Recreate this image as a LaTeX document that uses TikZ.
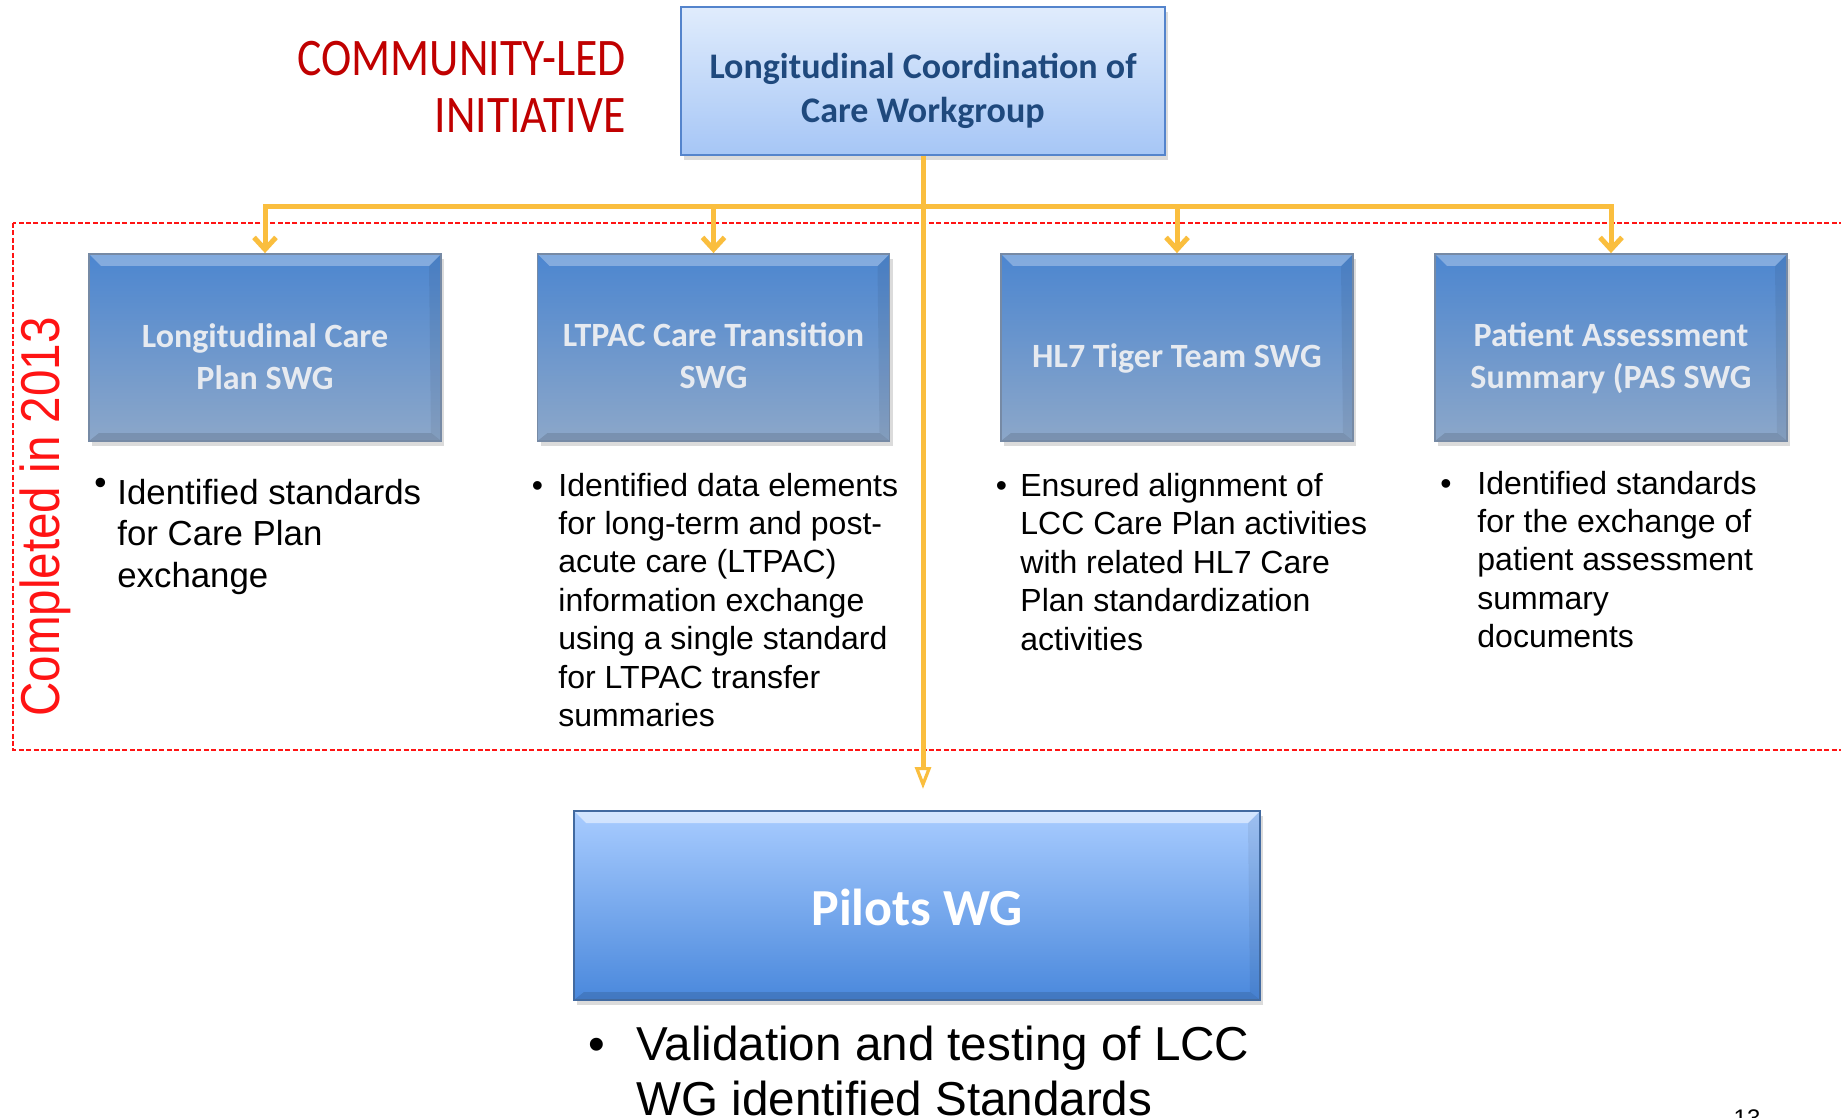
\documentclass[tikz,border=0pt]{standalone}
\usepackage{fontspec}
\setmainfont{Liberation Sans}
\newfontfamily\calfont{Carlito}
\usetikzlibrary{arrows.meta,shadows}

\definecolor{linkorange}{RGB}{250,190,62}
\definecolor{doneRed}{RGB}{255,20,20}
\definecolor{titleRed}{RGB}{192,0,0}
\definecolor{navyText}{RGB}{31,73,125}
\definecolor{lccTop}{RGB}{224,236,252}
\definecolor{lccBottom}{RGB}{166,198,246}
\definecolor{lccEdge}{RGB}{84,132,204}
\definecolor{swgTop}{RGB}{76,134,208}
\definecolor{swgMid}{RGB}{104,148,200}
\definecolor{swgBottom}{RGB}{140,167,201}
\definecolor{swgEdge}{RGB}{118,138,165}
\definecolor{swgText}{RGB}{230,234,240}
\definecolor{pilotTop}{RGB}{168,204,255}
\definecolor{pilotBottom}{RGB}{74,136,220}
\definecolor{pilotEdge}{RGB}{66,106,160}

% multi-line centred text, baseline on the first line
\newcommand\boxlines[2]{\parbox[t]{#1}{\centering #2}}
% bullet paragraph: width, bullet indent, bullet, lines
\newcommand\bulletpara[4]{\parbox[t]{#1}{\raggedright\leavevmode\llap{\makebox[#2][l]{#3}}#4}}

\tikzset{
  bevel/.style={path picture={
    \fill[white,opacity=#1] (path picture bounding box.north west) -- (path picture bounding box.north east)
      -- ([shift={(-6pt,-6pt)}]path picture bounding box.north east) -- ([shift={(6pt,-6pt)}]path picture bounding box.north west) -- cycle;
    \fill[black,opacity=0.12] (path picture bounding box.south west) -- (path picture bounding box.south east)
      -- ([shift={(-5pt,4pt)}]path picture bounding box.south east) -- ([shift={(5pt,4pt)}]path picture bounding box.south west) -- cycle;
    \fill[black,opacity=0.06] (path picture bounding box.north east) -- (path picture bounding box.south east)
      -- ([shift={(-5pt,4pt)}]path picture bounding box.south east) -- ([shift={(-6pt,-6pt)}]path picture bounding box.north east) -- cycle;
  }},
  boxshadow/.style={drop shadow={opacity=0.28,shadow xshift=1.5pt,shadow yshift=-2.5pt}},
  lccbox/.style={draw=lccEdge, line width=1.2pt, top color=lccTop, bottom color=lccBottom,
    minimum width=242pt, minimum height=74pt, inner sep=0pt, boxshadow},
  swgbox/.style={draw=swgEdge, line width=0.9pt, top color=swgTop, middle color=swgMid, bottom color=swgBottom,
    minimum width=176pt, minimum height=93.5pt, inner sep=0pt, boxshadow, bevel=0.3},
  pilotbox/.style={draw=pilotEdge, line width=0.9pt, top color=pilotTop, bottom color=pilotBottom,
    minimum width=343pt, minimum height=94.5pt, inner sep=0pt, boxshadow, bevel=0.5},
  lcclabel/.style={inner sep=0pt, anchor=base, text=navyText,
    font=\calfont\bfseries\fontsize{18pt}{22pt}\selectfont},
  swglabel/.style={inner sep=0pt, anchor=base, text=swgText,
    font=\calfont\bfseries\fontsize{17pt}{21pt}\selectfont},
  pilotlabel/.style={inner sep=0pt, anchor=base, text=white,
    font=\calfont\bfseries\fontsize{26pt}{30pt}\selectfont},
  note/.style={inner sep=0pt, anchor=base west, text=black},
  conn/.style={draw=linkorange, line width=2.5pt, -{Straight Barb[length=6pt,width=11pt]}},
  connmain/.style={draw=linkorange, line width=2.5pt, -{Triangle[open,length=11pt,width=8pt,line width=1.6pt]}},
  doneframe/.style={draw=doneRed, line width=1.3pt, dash pattern=on 2.5pt off 1.2pt},
}

\begin{document}
\begin{tikzpicture}[x=0.5pt,y=-0.5pt]
\useasboundingbox (0,0) rectangle (1841,1118);
\fill[white] (0,0) rectangle (1841,1118);

% frame around the finished sub-workgroups
\draw[doneframe] (13,223) rectangle (1900,750);
\node[rotate=90, anchor=base, inner sep=0pt, text=doneRed, font=\fontsize{23.8pt}{28pt}\selectfont] (done) at (59,517)
  {\scalebox{1}[1.15]{Completed in 2013}};

% heading
\node[anchor=base east, inner sep=0pt, text=titleRed, font=\calfont\fontsize{26.4pt}{28.5pt}\selectfont] (initiative) at (626,76)
  {\scalebox{0.865}[1]{\parbox[t]{200pt}{\raggedleft COMMUNITY-LED\\INITIATIVE}}};

% boxes
\node[lccbox] (lcc) at (923,81) {};
\node[lcclabel] (lcctext) at (923,79) {\boxlines{240pt}{Longitudinal Coordination of\\Care Workgroup}};

\node[swgbox] (b1) at (265,347.5) {};
\node[swgbox] (b2) at (713.5,347.5) {};
\node[swgbox] (b3) at (1177,347.5) {};
\node[swgbox] (b4) at (1611,347.5) {};
\node[swglabel] (b1text) at (265,347) {\boxlines{174pt}{Longitudinal Care\\Plan SWG}};
\node[swglabel] (b2text) at (713.5,346) {\boxlines{174pt}{LTPAC Care Transition\\SWG}};
\node[swglabel] (b3text) at (1177,367) {\boxlines{174pt}{HL7 Tiger Team SWG}};
\node[swglabel] (b4text) at (1611,346) {\boxlines{174pt}{Patient Assessment\\Summary (PAS SWG}};

\node[pilotbox] (pilots) at (917,905.5) {};
\node[pilotlabel] (pilotstext) at (917,925) {Pilots WG};

% connectors
\coordinate (bus) at (923,207);
\coordinate (ptip) at (923,789);
\draw[conn] (lcc.south) -- (lcc.south |- bus) -| (b1.north);
\draw[conn] (lcc.south) -- (lcc.south |- bus) -| (b2.north);
\draw[conn] (lcc.south) -- (lcc.south |- bus) -| (b3.north);
\draw[conn] (lcc.south) -- (lcc.south |- bus) -| (b4.north);
\draw[connmain] (lcc.south) -- (ptip);

% descriptions
\node[note, font=\fontsize{17.4pt}{20.8pt}\selectfont] (n1) at (117,504)
  {\bulletpara{180pt}{11.5pt}{\raisebox{5pt}{•}}{Identified standards\\for Care Plan\\exchange}};
\node[note, font=\fontsize{16pt}{19.2pt}\selectfont] (n2) at (558,496)
  {\bulletpara{180pt}{13.25pt}{•}{Identified data elements\\for long-term and post-\\acute care (LTPAC)\\information exchange\\using a single standard\\for LTPAC transfer\\summaries}};
\node[note, font=\fontsize{16pt}{19.2pt}\selectfont] (n3) at (1020,496.5)
  {\bulletpara{180pt}{12.25pt}{•}{Ensured alignment of\\LCC Care Plan activities\\with related HL7 Care\\Plan standardization\\activities}};
\node[note, font=\fontsize{16pt}{19.2pt}\selectfont] (n4) at (1477,494)
  {\bulletpara{180pt}{18.5pt}{•}{Identified standards\\for the exchange of\\patient assessment\\summary\\documents}};
\node[note, font=\fontsize{23.8pt}{27.6pt}\selectfont] (n5) at (636,1060)
  {\bulletpara{340pt}{24.2pt}{•}{Validation and testing of LCC\\WG identified Standards}};

% slide number
\node[inner sep=0pt, anchor=base, font=\fontsize{12pt}{14pt}\selectfont] (pagenum) at (1747,1126) {13};
\end{tikzpicture}
\end{document}
